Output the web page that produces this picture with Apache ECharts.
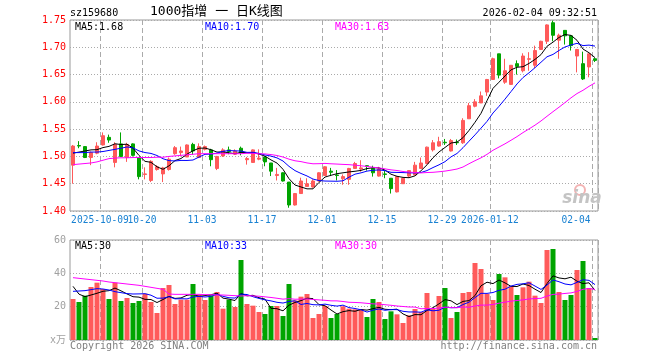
<!DOCTYPE html>
<html><head><meta charset="utf-8">
<script src="https://cdn.jsdelivr.net/npm/echarts@6/dist/echarts.min.js"></script>
<style>html,body{margin:0;padding:0;background:#fff}#c{width:660px;height:360px}</style>
</head><body><div id="c"></div>
<script>
// ---- data ----
const dates = [
 '2025-09-24','2025-09-25','2025-09-26','2025-09-29','2025-09-30',
 '2025-10-09','2025-10-10','2025-10-13','2025-10-14','2025-10-15','2025-10-16','2025-10-17',
 '2025-10-20','2025-10-21','2025-10-22','2025-10-23','2025-10-24',
 '2025-10-27','2025-10-28','2025-10-29','2025-10-30','2025-10-31',
 '2025-11-03','2025-11-04','2025-11-05','2025-11-06','2025-11-07',
 '2025-11-10','2025-11-11','2025-11-12','2025-11-13','2025-11-14',
 '2025-11-17','2025-11-18','2025-11-19','2025-11-20','2025-11-21',
 '2025-11-24','2025-11-25','2025-11-26','2025-11-27','2025-11-28',
 '2025-12-01','2025-12-02','2025-12-03','2025-12-04','2025-12-05',
 '2025-12-08','2025-12-09','2025-12-10','2025-12-11','2025-12-12',
 '2025-12-15','2025-12-16','2025-12-17','2025-12-18','2025-12-19',
 '2025-12-22','2025-12-23','2025-12-24','2025-12-25','2025-12-26',
 '2025-12-29','2025-12-30','2025-12-31',
 '2026-01-05','2026-01-06','2026-01-07','2026-01-08','2026-01-09',
 '2026-01-12','2026-01-13','2026-01-14','2026-01-15','2026-01-16',
 '2026-01-19','2026-01-20','2026-01-21','2026-01-22','2026-01-23',
 '2026-01-26','2026-01-27','2026-01-28','2026-01-29','2026-01-30',
 '2026-02-02','2026-02-03','2026-02-04'
];
const tickDates  = ['2025-10-09','2025-10-20','2025-11-03','2025-11-17','2025-12-01','2025-12-15','2025-12-29','2026-01-12','2026-02-04'];
const tickLabels = ['2025-10-09','10-20','11-03','11-17','12-01','12-15','12-29','2026-01-12','02-04'];

const openP = [1.484,1.520,1.518,1.498,1.506,1.521,1.535,1.489,1.523,1.498,
 1.523,1.498,1.467,1.456,1.476,1.468,1.476,1.505,1.507,1.499,
 1.522,1.498,1.513,1.512,1.478,1.501,1.512,1.504,1.515,1.494,
 1.489,1.495,1.499,1.488,1.465,1.470,1.453,1.411,1.432,1.445,
 1.444,1.455,1.465,1.473,1.466,1.459,1.458,1.478,1.477,1.483,
 1.478,1.464,1.468,1.460,1.435,1.450,1.464,1.466,1.478,1.487,
 1.512,1.519,1.526,1.510,1.526,1.525,1.569,1.592,1.598,1.618,
 1.641,1.688,1.636,1.632,1.670,1.657,1.678,1.667,1.696,1.711,
 1.745,1.713,1.731,1.721,1.684,1.670,1.664,1.679];
const closeP = [1.519,1.519,1.498,1.507,1.519,1.538,1.530,1.522,1.500,1.522,
 1.502,1.463,1.468,1.491,1.481,1.479,1.495,1.516,1.510,1.521,
 1.510,1.518,1.518,1.494,1.500,1.512,1.509,1.510,1.507,1.496,
 1.512,1.497,1.490,1.473,1.467,1.455,1.411,1.432,1.455,1.450,
 1.455,1.470,1.481,1.471,1.465,1.463,1.478,1.487,1.479,1.482,
 1.470,1.477,1.467,1.441,1.463,1.460,1.474,1.484,1.488,1.517,
 1.525,1.527,1.525,1.529,1.525,1.566,1.593,1.600,1.611,1.641,
 1.679,1.649,1.657,1.667,1.665,1.684,1.679,1.694,1.711,1.741,
 1.722,1.722,1.721,1.703,1.696,1.642,1.688,1.676];
const lowP = [1.450,1.515,1.497,1.484,1.504,1.520,1.525,1.480,1.499,1.490,
 1.500,1.458,1.458,1.453,1.474,1.453,1.474,1.503,1.500,1.499,
 1.503,1.497,1.511,1.482,1.475,1.499,1.504,1.503,1.502,1.485,
 1.488,1.493,1.482,1.464,1.456,1.454,1.406,1.410,1.432,1.444,
 1.443,1.454,1.464,1.464,1.456,1.448,1.448,1.477,1.472,1.474,
 1.463,1.463,1.460,1.432,1.434,1.450,1.461,1.466,1.478,1.486,
 1.509,1.518,1.521,1.509,1.521,1.523,1.569,1.590,1.598,1.611,
 1.640,1.643,1.633,1.631,1.650,1.654,1.657,1.662,1.695,1.706,
 1.711,1.679,1.705,1.694,1.654,1.640,1.645,1.673];
const highP = [1.521,1.528,1.519,1.509,1.526,1.544,1.540,1.526,1.544,1.525,
 1.524,1.498,1.480,1.493,1.484,1.481,1.498,1.519,1.518,1.522,
 1.525,1.524,1.520,1.514,1.501,1.515,1.518,1.513,1.518,1.499,
 1.513,1.513,1.500,1.488,1.479,1.471,1.453,1.433,1.461,1.460,
 1.458,1.471,1.482,1.479,1.475,1.467,1.479,1.490,1.493,1.484,
 1.483,1.481,1.474,1.460,1.464,1.461,1.475,1.490,1.498,1.518,
 1.530,1.536,1.532,1.532,1.531,1.570,1.598,1.605,1.619,1.642,
 1.681,1.688,1.679,1.667,1.676,1.689,1.691,1.703,1.712,1.742,
 1.749,1.725,1.731,1.722,1.697,1.692,1.688,1.680];
const volume = [24.6,22.8,26.6,31.8,34.4,30.6,24.6,34.4,23.4,25.2,
 22.2,23.4,27.8,22.8,16.2,31.2,33.0,21.6,24.2,24.2,
 33.6,27.2,24.0,26.8,28.8,18.8,24.2,19.8,48.0,21.6,
 20.6,16.8,15.6,20.4,20.4,14.4,33.6,23.8,26.0,27.6,
 13.2,15.6,20.4,13.2,15.6,20.2,18.8,18.4,18.4,13.8,
 24.6,22.8,12.6,17.2,15.4,10.2,14.8,18.6,16.8,28.2,
 18.6,26.4,31.2,13.2,16.8,28.2,28.8,46.2,42.6,27.6,
 24.0,39.6,37.6,32.2,27.0,31.6,35.0,26.6,22.2,54.0,
 54.6,28.8,24.0,27.0,42.0,47.4,31.2,1.2];

// moving-average values at the start of the window (history before the chart)
const ma5Head  = [1.506,1.508,1.510,1.512];
const ma10Head = [1.507,1.507,1.507,1.508,1.508,1.509,1.511,1.513,1.515];
const ma30Head = [1.485,1.486,1.487,1.488,1.490,1.493,1.496,1.497,1.4975,1.4975,
 1.498,1.498,1.498,1.498,1.4985,1.4985,1.500,1.501,1.502,1.503,
 1.504,1.505,1.505,1.505,1.505,1.505,1.505,1.505,1.505];
const vma5Head  = [32.2,27.5,26.0,27.0];
const vma10Head = [29.2,29.4,29.6,30.2,30.8,30.6,30.0,29.0,28.4];
const vma30Head = [37.4,37.0,36.6,36.2,35.8,35.4,34.8,34.4,34.0,33.6,
 33.2,32.8,32.2,31.6,31.0,30.4,27.6,27.4,27.4,27.4,
 27.4,27.4,27.2,27.2,27.0,27.0,26.8,26.6,26.4];

// ---- build ----
function movingAvg(vals, n, head) {
  return vals.map((v, i) => {
    if (i < n - 1) return head[i];
    let s = 0; for (let k = i - n + 1; k <= i; k++) s += vals[k];
    return +(s / n).toFixed(4);
  });
}
const ma5 = movingAvg(closeP, 5, ma5Head), ma10 = movingAvg(closeP, 10, ma10Head), ma30 = movingAvg(closeP, 30, ma30Head);
const vma5 = movingAvg(volume, 5, vma5Head), vma10 = movingAvg(volume, 10, vma10Head), vma30 = movingAvg(volume, 30, vma30Head);

const RED = '#ff5a5a', GREEN = '#00a400';
const MONO = "'DejaVu Sans Mono','Liberation Mono',monospace";
const MONOCJK = "'DejaVu Sans Mono','Noto Sans CJK SC',monospace";
const tickIdx = new Map(tickDates.map((d, k) => [dates.indexOf(d), tickLabels[k]]));
const firstTick = dates.indexOf(tickDates[0]);
const lastIdx = dates.length - 1;

const kData = dates.map((d, i) => [openP[i], closeP[i], lowP[i], highP[i]]);
const vData = volume.map((v, i) => ({ value: v, itemStyle: { color: closeP[i] >= openP[i] ? RED : GREEN } }));

const splitX = { show: true, interval: (i) => tickIdx.has(i), lineStyle: { color: '#aaa', type: [5, 3], width: 1 } };
const splitY = { show: true, lineStyle: { color: '#aaa', type: [1, 2], width: 1 } };
const labelBase = { show: true, hideOverlap: false, margin: 4, color: '#1a82d2', fontFamily: MONO, fontSize: 9.6, padding: [0, 6, 0, 0] };

function txt(x, y, text, fill, opts) {
  opts = opts || {};
  return { type: 'text', x: x, y: y, z: 100, silent: true,
    style: { text: text, fill: fill, font: opts.font || ('10px ' + MONO), align: opts.align || 'left', verticalAlign: 'middle' } };
}

const chart = echarts.init(document.getElementById('c'), null, { renderer: 'canvas' });
chart.setOption({
  animation: false,
  backgroundColor: '#fff',
  grid: [
    { left: 70, top: 20, width: 528, height: 191, show: true, borderColor: '#999', borderWidth: 1, backgroundColor: 'transparent' },
    { left: 70, top: 240, width: 528, height: 100, show: true, borderColor: '#999', borderWidth: 1, backgroundColor: 'transparent' }
  ],
  xAxis: [
    { gridIndex: 0, type: 'category', data: dates, boundaryGap: true,
      axisLine: { show: false }, axisTick: { show: false },
      axisLabel: Object.assign({}, labelBase, {
        interval: (i) => tickIdx.has(i) && i !== firstTick,
        formatter: (v, i) => i === lastIdx ? '{e|' + tickIdx.get(i) + '}' : tickIdx.get(i),
        rich: { e: { padding: [0, 32, 0, 0], color: '#1a82d2', fontFamily: MONO, fontSize: 9.6 } } }),
      splitLine: splitX },
    { gridIndex: 1, type: 'category', data: dates, boundaryGap: true,
      axisLine: { show: false }, axisTick: { show: false }, axisLabel: { show: false }, splitLine: splitX },
    { gridIndex: 0, type: 'category', data: dates, boundaryGap: true, position: 'bottom',
      axisLine: { show: false }, axisTick: { show: false }, splitLine: { show: false },
      axisLabel: Object.assign({}, labelBase, {
        interval: (i) => i === firstTick, showMinLabel: false, showMaxLabel: false,
        formatter: (v, i) => tickIdx.get(i) || '' }) }
  ],
  yAxis: [
    { gridIndex: 0, type: 'value', min: 1.40, max: 1.75, interval: 0.05, scale: true,
      axisLine: { show: false }, axisTick: { show: false },
      axisLabel: { color: '#ff0000', fontFamily: MONO, fontSize: 10, margin: 4, formatter: (v) => v.toFixed(2) },
      splitLine: splitY },
    { gridIndex: 1, type: 'value', min: 0, max: 60, interval: 20,
      axisLine: { show: false }, axisTick: { show: false },
      axisLabel: { color: '#a0a0a0', fontFamily: MONOCJK, fontSize: 10, margin: 4, formatter: (v) => v === 0 ? 'x万' : String(v) },
      splitLine: splitY }
  ],
  series: [
    { type: 'candlestick', xAxisIndex: 0, yAxisIndex: 0, data: kData, barWidth: 4, z: 2,
      itemStyle: { color: RED, color0: GREEN, borderColor: RED, borderColor0: GREEN, borderWidth: 1 } },
    { type: 'line', xAxisIndex: 0, yAxisIndex: 0, data: ma5, symbol: 'none', z: 3, lineStyle: { color: '#000', width: 1 } },
    { type: 'line', xAxisIndex: 0, yAxisIndex: 0, data: ma10, symbol: 'none', z: 3, lineStyle: { color: '#0000ff', width: 1 } },
    { type: 'line', xAxisIndex: 0, yAxisIndex: 0, data: ma30, symbol: 'none', z: 3, lineStyle: { color: '#ff00ff', width: 1 } },
    { type: 'bar', xAxisIndex: 1, yAxisIndex: 1, data: vData, barWidth: 5, z: 2 },
    { type: 'line', xAxisIndex: 1, yAxisIndex: 1, data: vma5, symbol: 'none', z: 3, lineStyle: { color: '#000', width: 1 } },
    { type: 'line', xAxisIndex: 1, yAxisIndex: 1, data: vma10, symbol: 'none', z: 3, lineStyle: { color: '#0000ff', width: 1 } },
    { type: 'line', xAxisIndex: 1, yAxisIndex: 1, data: vma30, symbol: 'none', z: 3, lineStyle: { color: '#ff00ff', width: 1 } }
  ],
  graphic: [
    txt(70, 13, 'sz159680', '#000'),
    txt(150, 12, '1000指增 一 日K线图', '#000', { font: "13px " + MONOCJK }),
    txt(597, 13, '2026-02-04 09:32:51', '#000', { align: 'right' }),
    txt(75, 27, 'MA5:' + ma5[lastIdx].toFixed(2), '#000'),
    txt(205, 27, 'MA10:' + ma10[lastIdx].toFixed(2), '#0000ff'),
    txt(335, 27, 'MA30:' + ma30[lastIdx].toFixed(2), '#ff00ff'),
    txt(75, 246, 'MA5:' + Math.round(vma5[lastIdx]), '#000'),
    txt(205, 246, 'MA10:' + Math.round(vma10[lastIdx]), '#0000ff'),
    txt(335, 246, 'MA30:' + Math.round(vma30[lastIdx]), '#ff00ff'),
    txt(70, 346, 'Copyright 2026 SINA.COM', '#808080'),
    txt(597, 346, 'http://finance.sina.com.cn', '#808080', { align: 'right' }),
    { type: 'circle', z: 1, silent: true, shape: { cx: 580, cy: 190, r: 5 }, style: { fill: 'none', stroke: '#f3b3b3', lineWidth: 2 } },
    txt(582, 199, 'sina', '#c4c4c4', { align: 'center', font: 'italic bold 17px "DejaVu Sans",sans-serif' })
  ]
});
</script>
</body></html>
